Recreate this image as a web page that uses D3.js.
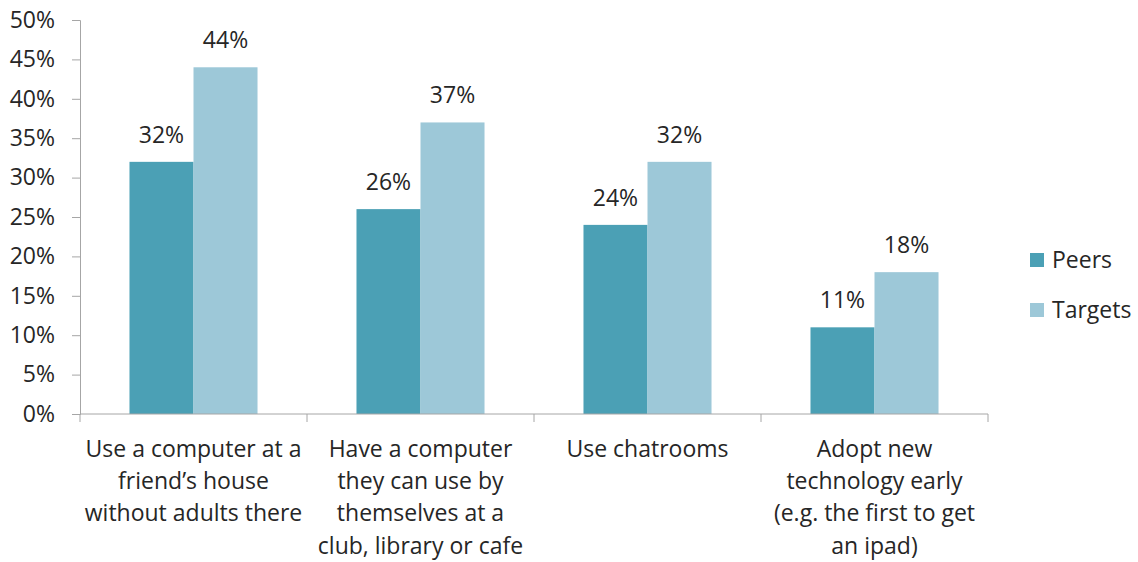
<!DOCTYPE html>
<html><head><meta charset="utf-8">
<script src="https://cdn.jsdelivr.net/npm/d3@7"></script>
<style>body{margin:0;background:#fff}svg{display:block}text{font-family:"Open Sans",Lato,sans-serif;fill:#262626}</style>
</head><body><svg id="c" width="1138" height="562"></svg>
<script>
const categories = [
  ["Use a computer at a","friend’s house","without adults there"],
  ["Have a computer","they can use by","themselves at a","club, library or cafe"],
  ["Use chatrooms"],
  ["Adopt new","technology early","(e.g. the first to get","an ipad)"]
];
const seriesNames = ["Peers","Targets"];
const peers = [32, 26, 24, 11];
const targets = [44, 37, 32, 18];
const yTicks = [0,5,10,15,20,25,30,35,40,45,50];
const colors = ["#4ba0b5","#9dc8d8"];

const FONT = "Open Sans";
const FS = 23;
const svg = d3.select("#c");
const mLeft = 80, mRight = 988, mTop = 20, mBottom = 414;
const x = d3.scaleBand().domain(d3.range(categories.length)).range([mLeft,mRight]).paddingInner(0).paddingOuter(0);
const x1 = d3.scaleBand().domain(seriesNames).range([0,x.bandwidth()]).paddingInner(0).paddingOuter(0.773);
const y = d3.scaleLinear().domain([0,50]).range([mBottom,mTop]);
const axisColor = "#a6a6a6";

// y axis
const ya = svg.append("g").attr("transform",`translate(${mLeft},0)`)
  .call(d3.axisLeft(y).tickValues(yTicks).tickFormat(d=>d+"%").tickSize(8).tickPadding(17));
ya.select(".domain").attr("stroke",axisColor);
ya.selectAll(".tick line").attr("stroke",axisColor);
ya.selectAll(".tick text").attr("font-size",FS).style("fill","#262626").attr("font-family",FONT);

// bars
const data = categories.map((c,i)=>({i, vals:[peers[i],targets[i]]}));
const g = svg.append("g");
data.forEach(d=>{
  d.vals.forEach((v,j)=>{
    const bx = x(d.i)+x1(seriesNames[j]);
    g.append("rect").attr("x",bx).attr("y",y(v)).attr("width",x1.bandwidth()).attr("height",y(0)-y(v)).attr("fill",colors[j]);
    g.append("text").attr("x",bx+x1.bandwidth()/2).attr("y",y(v)-19).attr("text-anchor","middle").attr("font-size",FS).text(v+"%");
  });
});

// x axis
const xa = svg.append("g").attr("transform",`translate(0,${mBottom})`);
xa.append("line").attr("x1",mLeft).attr("x2",mRight).attr("stroke",axisColor);
d3.range(categories.length+1).forEach(k=>{
  const xx = mLeft + k*x.bandwidth();
  xa.append("line").attr("x1",xx).attr("x2",xx).attr("y1",0).attr("y2",8).attr("stroke",axisColor);
});
categories.forEach((lines,i)=>{
  const t = svg.append("text").attr("text-anchor","middle").attr("font-size",FS);
  lines.forEach((l,k)=>{
    t.append("tspan").attr("x",x(i)+x.bandwidth()/2).attr("y",457+k*32.2).text(l);
  });
});

// legend
seriesNames.forEach((s,j)=>{
  const ly = 253 + j*50;
  svg.append("rect").attr("x",1030).attr("y",ly).attr("width",14).attr("height",14).attr("fill",colors[j]);
  svg.append("text").attr("x",1052).attr("y",ly+15).attr("font-size",FS).text(s);
});
</script></body></html>
